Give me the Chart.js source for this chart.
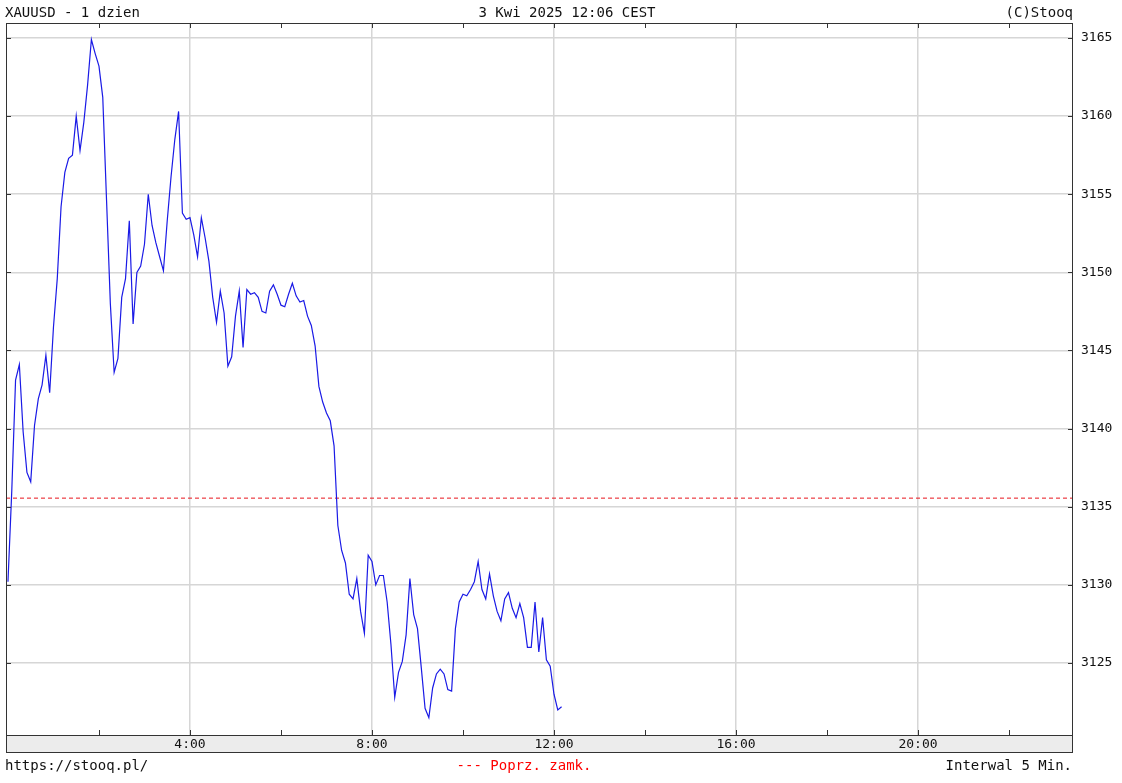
<!DOCTYPE html>
<html>
<head>
<meta charset="utf-8">
<title>XAUUSD - 1 dzien</title>
<script src="https://cdn.jsdelivr.net/npm/chart.js@4.4.1/dist/chart.umd.min.js"></script>
<style>
    body { margin: 0; background: #fff; }
    #wrap { position: relative; width: 1122px; height: 783px; }
    #chart { position: absolute; left: 0; top: 0; }
    .txt {
        position: absolute;
        font-family: 'DejaVu Sans Mono', monospace;
        font-size: 14px;
        line-height: 16px;
        color: #111;
        white-space: pre;
    }
</style>
</head>
<body>
<div id="wrap">
    <canvas id="chart" width="1122" height="783"></canvas>
    <div class="txt" style="left:5px; top:4px;">XAUUSD - 1 dzien</div>
    <div class="txt" style="left:567px; top:4px; transform:translateX(-50%);">3 Kwi 2025 12:06 CEST</div>
    <div class="txt" style="right:49px; top:4px;">(C)Stooq</div>
    <div class="txt" style="left:5px; top:757px;">https://stooq.pl/</div>
    <div class="txt" style="left:524px; top:757px; transform:translateX(-50%); color:#f00;">--- Poprz. zamk.</div>
    <div class="txt" style="right:50px; top:757px;">Interwal 5 Min.</div>
</div>
<script>
(function() {
    'use strict';

    // 5-minute closes
    const pricesNight = [      // 0:00 - 3:55
        3130.2, 3136.0, 3143.1, 3144.1, 3139.8, 3137.2, 3136.6, 3140.2, 3141.9, 3142.8, 3144.7, 3142.3,
        3146.5, 3149.6, 3154.2, 3156.4, 3157.3, 3157.5, 3160.0, 3157.8, 3159.6, 3162.0, 3164.9, 3164.0,
        3163.2, 3161.2, 3154.6, 3148.0, 3143.6, 3144.5, 3148.4, 3149.6, 3153.3, 3146.7, 3150.0, 3150.4,
        3151.8, 3155.0, 3153.0, 3151.9, 3151.0, 3150.1, 3153.3, 3156.1, 3158.5, 3160.3, 3153.8, 3153.4
    ];
    const pricesMorning = [    // 4:00 - 7:55
        3153.5, 3152.4, 3151.0, 3153.5, 3152.2, 3150.7, 3148.4, 3146.8, 3148.8, 3147.4, 3144.0, 3144.6,
        3147.2, 3148.8, 3145.2, 3148.9, 3148.6, 3148.7, 3148.4, 3147.5, 3147.4, 3148.8, 3149.2, 3148.6,
        3147.9, 3147.8, 3148.6, 3149.3, 3148.5, 3148.1, 3148.2, 3147.2, 3146.6, 3145.3, 3142.7, 3141.7,
        3141.0, 3140.5, 3138.9, 3133.8, 3132.2, 3131.4, 3129.4, 3129.1, 3130.4, 3128.3, 3126.9, 3131.9
    ];
    const pricesDay = [        // 8:00 - 12:10
        3131.5, 3130.0, 3130.6, 3130.6, 3128.9, 3126.2, 3122.8, 3124.4, 3125.1, 3126.8, 3130.4, 3128.1,
        3127.2, 3124.7, 3122.1, 3121.5, 3123.4, 3124.3, 3124.6, 3124.3, 3123.3, 3123.2, 3127.2, 3128.9,
        3129.4, 3129.3, 3129.7, 3130.2, 3131.5, 3129.7, 3129.1, 3130.7, 3129.3, 3128.3, 3127.7, 3129.1,
        3129.5, 3128.5, 3127.9, 3128.8, 3127.9, 3126.0, 3126.0, 3128.9, 3125.7, 3127.9, 3125.2, 3124.8,
        3123.0, 3122.0, 3122.2
    ];
    const prevClose = 3135.55;
    const intervalMinutes = 5;

    const yTicks = [3125, 3130, 3135, 3140, 3145, 3150, 3155, 3160, 3165];
    const xLabelHours = [4, 8, 12, 16, 20];

    const X_MIN = -2.6, X_MAX = 1404.4;      // minutes from midnight
    const Y_MIN = 3120.39, Y_MAX = 3165.96;

    const prices = pricesNight.concat(pricesMorning, pricesDay);
    const series = prices.map((p, i) => ({ x: i * intervalMinutes, y: p }));

    // axis strip, frame and inward tick marks like the stooq chart
    const framePlugin = {
        id: 'frame',
        beforeDraw(chart) {
            const { ctx, chartArea: a } = chart;
            ctx.save();
            ctx.fillStyle = '#ececec';
            ctx.fillRect(a.left, a.bottom, a.right - a.left, 17);
            ctx.restore();
        },
        afterDraw(chart) {
            const { ctx, chartArea: a, scales } = chart;
            ctx.save();
            ctx.strokeStyle = '#333';
            ctx.lineWidth = 1;
            ctx.strokeRect(a.left + 0.5, a.top + 0.5, a.right - a.left - 1, a.bottom - a.top);
            ctx.strokeRect(a.left + 0.5, a.bottom + 0.5, a.right - a.left - 1, 17);
            ctx.beginPath();
            for (let m = 120; m < X_MAX; m += 120) {
                const px = Math.round(scales.x.getPixelForValue(m)) + 0.5;
                ctx.moveTo(px, a.top);
                ctx.lineTo(px, a.top + 5);
                ctx.moveTo(px, a.bottom);
                ctx.lineTo(px, a.bottom - 5);
            }
            yTicks.forEach(v => {
                const py = Math.round(scales.y.getPixelForValue(v)) + 0.5;
                ctx.moveTo(a.left, py);
                ctx.lineTo(a.left + 5, py);
                ctx.moveTo(a.right, py);
                ctx.lineTo(a.right - 5, py);
            });
            ctx.stroke();
            ctx.restore();
        }
    };

    new Chart(document.getElementById('chart'), {
        type: 'line',
        data: {
            datasets: [{
                label: 'XAUUSD',
                data: series,
                borderColor: '#1a1ae6',
                borderWidth: 1.2,
                pointRadius: 0,
                tension: 0,
                fill: false
            }, {
                label: 'Poprz. zamk.',
                data: [{ x: X_MIN, y: prevClose }, { x: X_MAX, y: prevClose }],
                borderColor: '#e8141c',
                borderWidth: 1,
                borderDash: [4, 3],
                pointRadius: 0,
                fill: false
            }]
        },
        options: {
            responsive: false,
            animation: false,
            devicePixelRatio: 1,
            layout: { padding: { top: 23, left: 6, right: 0, bottom: 31 } },
            plugins: {
                legend: { display: false },
                tooltip: { enabled: false }
            },
            scales: {
                x: {
                    type: 'linear',
                    min: X_MIN,
                    max: X_MAX,
                    afterFit: function(scale) { scale.height = 17; },
                    border: { display: false },
                    grid: {
                        drawTicks: false,
                        color: function(c) {
                            return xLabelHours.includes(c.tick.value / 60) ? '#d6d6d6' : 'rgba(0,0,0,0)';
                        },
                        lineWidth: 1.5
                    },
                    ticks: {
                        includeBounds: false,
                        stepSize: 120,
                        autoSkip: false,
                        maxRotation: 0,
                        padding: 2,
                        color: '#111',
                        font: { family: 'DejaVu Sans Mono', size: 13 },
                        callback: function(value) {
                            const h = value / 60;
                            return xLabelHours.includes(h) ? h + ':00' : '';
                        }
                    }
                },
                y: {
                    position: 'right',
                    min: Y_MIN,
                    max: Y_MAX,
                    afterFit: function(scale) { scale.width = 49; },
                    afterBuildTicks: function(scale) {
                        scale.ticks = yTicks.map(v => ({ value: v }));
                    },
                    border: { display: false },
                    grid: {
                        drawTicks: false,
                        color: '#d6d6d6',
                        lineWidth: 1.5
                    },
                    ticks: {
                        padding: 8,
                        color: '#111',
                        font: { family: 'DejaVu Sans Mono', size: 13 },
                        callback: function(value) {
                            return String(value);
                        }
                    }
                }
            }
        },
        plugins: [framePlugin]
    });
})();
</script>
</body>
</html>
